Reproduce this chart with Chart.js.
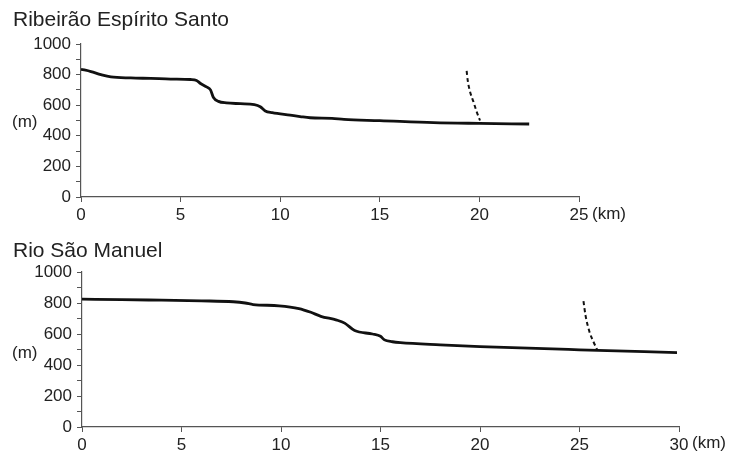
<!DOCTYPE html>
<html lang="pt">
<head>
<meta charset="utf-8">
<title>Perfis longitudinais</title>
<script src="https://cdn.jsdelivr.net/npm/chart.js@4/dist/chart.umd.min.js"></script>
<style>
    html, body { margin: 0; padding: 0; background: #fff; }
    #perfis { position: relative; width: 731px; height: 454px; }
    #perfis canvas { position: absolute; left: 0; }
    #perfilEspirito { top: 0; }
    #perfilManuel { top: 227px; }
</style>
</head>
<body>
<div id="perfis">
    <canvas id="perfilEspirito" width="731" height="227"></canvas>
    <canvas id="perfilManuel" width="731" height="227"></canvas>
</div>
<script>
// Perfil do Ribeirão Espírito Santo (distância em km, altitude em m)
const espiritoKm = [0, 0.5, 1.0, 1.5, 2.5, 3.5, 4.5, 5.5, 5.8, 6.0, 6.3, 6.5, 6.65, 6.9, 7.3, 8.0, 8.7, 9.0, 9.25, 9.6, 10.5, 11.0, 11.5, 12.6, 13.2, 15.0, 17.7, 20.0, 22.5];
const espiritoAlt = [835, 820, 800, 785, 778, 775, 771, 768, 762, 742, 720, 700, 650, 625, 615, 610, 604, 590, 562, 551, 535, 526, 518, 514, 507, 499, 486, 481, 477];
// Linha tracejada
const espiritoTracoKm = [19.36, 19.41, 19.53, 19.70, 19.86, 20.03];
const espiritoTracoAlt = [824, 765, 689, 623, 558, 500];

// Perfil do Rio São Manuel
const manuelKm = [0, 2, 4, 6, 7.6, 8.2, 8.6, 9.9, 10.9, 11.5, 12.0, 12.8, 13.2, 13.7, 14.6, 15.0, 15.2, 15.6, 16.0, 18.0, 20.0, 25.0, 29.9];
const manuelAlt = [825, 822, 818, 814, 808, 800, 790, 782, 764, 740, 714, 690, 670, 622, 600, 585, 562, 550, 544, 530, 519, 498, 480];
const manuelTracoKm = [25.2, 25.3, 25.5, 25.7, 25.9];
const manuelTracoAlt = [812, 722, 615, 550, 495];

// Marcas dos eixos
const altTicks = [0, 200, 400, 600, 800, 1000];
const kmPasso = 5;

(function() {
    'use strict';

    const FONTE = '"Liberation Sans", Arial, Helvetica, sans-serif';
    const COR_EIXO = '#555';
    const COR_TEXTO = '#222';

    function pontos(xs, ys) {
        return xs.map(function(x, i) {
            return { x: x, y: ys[i] };
        });
    }

    // Título, "(m)" e "(km)" desenhados sobre o canvas
    const textosPlugin = {
        id: 'textos',
        afterDraw: function(chart, args, opts) {
            const ctx = chart.ctx;
            const sx = chart.scales.x;
            ctx.save();
            ctx.fillStyle = COR_TEXTO;
            ctx.textAlign = 'left';
            ctx.textBaseline = 'alphabetic';
            ctx.font = '21px ' + FONTE;
            ctx.fillText(opts.titulo, 13, opts.tituloY);
            ctx.font = '17px ' + FONTE;
            ctx.fillText('(m)', 12, opts.mY);
            ctx.fillText('(km)', sx.right + 13, opts.kmY);
            ctx.restore();
        }
    };

    function criarPerfil(canvasId, cfg) {
        const canvas = document.getElementById(canvasId);
        if (!canvas) return null;

        return new Chart(canvas.getContext('2d'), {
            type: 'line',
            data: {
                datasets: [{
                    data: pontos(cfg.km, cfg.alt),
                    borderColor: '#111',
                    borderWidth: 2.8,
                    pointRadius: 0,
                    cubicInterpolationMode: 'monotone',
                    fill: false
                }, {
                    data: pontos(cfg.tracoKm, cfg.tracoAlt),
                    borderColor: '#111',
                    borderWidth: 2,
                    borderDash: [4, 3],
                    pointRadius: 0,
                    cubicInterpolationMode: 'monotone',
                    fill: false
                }]
            },
            options: {
                responsive: false,
                animation: false,
                events: [],
                layout: {
                    padding: { top: cfg.topo, right: 731 - cfg.direita, bottom: 0, left: 0 }
                },
                plugins: {
                    legend: { display: false },
                    tooltip: { enabled: false },
                    textos: {
                        titulo: cfg.titulo,
                        tituloY: cfg.tituloY,
                        mY: cfg.mY,
                        kmY: cfg.kmY
                    }
                },
                scales: {
                    x: {
                        type: 'linear',
                        min: 0,
                        max: cfg.kmMax,
                        afterFit: function(scale) { scale.height = cfg.alturaX; },
                        ticks: {
                            stepSize: kmPasso,
                            padding: 3,
                            color: COR_TEXTO,
                            font: { family: FONTE, size: 17 },
                            maxRotation: 0
                        },
                        grid: {
                            drawOnChartArea: false,
                            drawTicks: true,
                            tickLength: 5,
                            tickColor: COR_EIXO
                        },
                        border: { display: true, color: COR_EIXO, width: 1.2 }
                    },
                    y: {
                        type: 'linear',
                        min: 0,
                        max: 1000,
                        afterFit: function(scale) { scale.width = cfg.esquerda; },
                        ticks: {
                            stepSize: 100,
                            autoSkip: false,
                            padding: 5,
                            color: COR_TEXTO,
                            font: { family: FONTE, size: 17 },
                            callback: function(v) {
                                return altTicks.indexOf(v) >= 0 ? String(v) : '';
                            }
                        },
                        grid: {
                            drawOnChartArea: false,
                            drawTicks: true,
                            tickLength: 5,
                            tickColor: COR_EIXO
                        },
                        border: { display: true, color: COR_EIXO, width: 1.2 }
                    }
                }
            },
            plugins: [textosPlugin]
        });
    }

    criarPerfil('perfilEspirito', {
        titulo: 'Ribeirão Espírito Santo',
        km: espiritoKm, alt: espiritoAlt,
        tracoKm: espiritoTracoKm, tracoAlt: espiritoTracoAlt,
        kmMax: 25,
        topo: 44, direita: 579, esquerda: 81, alturaX: 30,
        tituloY: 26, mY: 127, kmY: 219
    });

    criarPerfil('perfilManuel', {
        titulo: 'Rio São Manuel',
        km: manuelKm, alt: manuelAlt,
        tracoKm: manuelTracoKm, tracoAlt: manuelTracoAlt,
        kmMax: 30,
        topo: 45, direita: 679, esquerda: 82, alturaX: 27,
        tituloY: 30, mY: 131, kmY: 221
    });
})();
</script>
</body>
</html>
